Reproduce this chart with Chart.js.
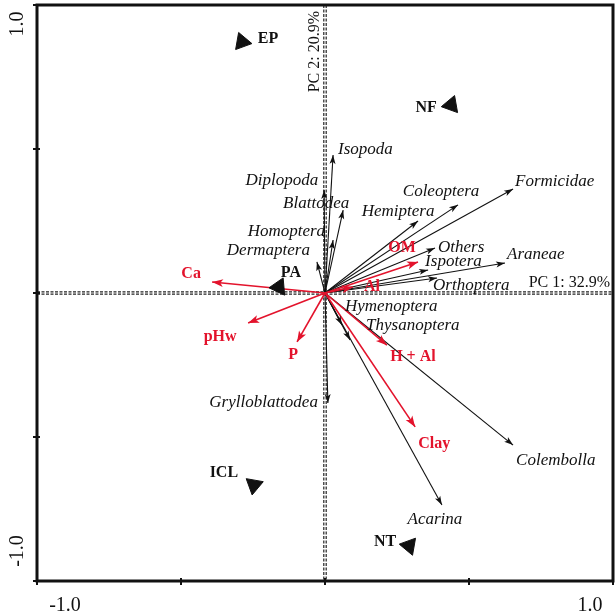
<!DOCTYPE html>
<html>
<head>
<meta charset="utf-8">
<script src="https://cdn.jsdelivr.net/npm/chart.js@4.4.0/dist/chart.umd.min.js"></script>
<style>
  body { margin: 0; background: #fff; }
  #wrap { width: 616px; height: 616px; }
</style>
</head>
<body>
<div id="wrap"><canvas id="chart" width="616" height="616"></canvas></div>
<script>
'use strict'

// species vectors (black arrows)
const speciesNames = ['Isopoda', 'Diplopoda', 'Blattodea', 'Homoptera', 'Dermaptera', 'Hemiptera',
    'Coleoptera', 'Formicidae', 'Others', 'Ispotera', 'Araneae', 'Orthoptera',
    'Hymenoptera', 'Thysanoptera', 'Grylloblattodea', 'Colembolla', 'Acarina']
const speciesX = [0.028, -0.003, 0.063, 0.028, -0.028, 0.323, 0.462, 0.653, 0.382, 0.358, 0.625, 0.389,
    0.059, 0.087, 0.010, 0.653, 0.406]
const speciesY = [0.479, 0.358, 0.288, 0.184, 0.108, 0.250, 0.306, 0.361, 0.156, 0.080, 0.104, 0.052,
    -0.111, -0.163, -0.382, -0.528, -0.736]

// soil variables (red arrows)
const soilNames = ['Ca', 'pHw', 'P', 'OM', 'Al', 'H + Al', 'Clay']
const soilX = [-0.392, -0.267, -0.097, 0.323, 0.097, 0.215, 0.313]
const soilY = [0.038, -0.104, -0.170, 0.108, 0.021, -0.181, -0.465]

// sites (triangles)
const siteNames = ['EP', 'NF', 'PA', 'ICL', 'NT']
const siteX = [-0.288, 0.438, -0.160, -0.247, 0.292]
const siteY = [0.872, 0.653, 0.021, -0.667, -0.878]

// axis
const axisTicks = [-1, -0.5, 0, 0.5, 1]
const pc1Label = 'PC 1: 32.9%'
const pc2Label = 'PC 2: 20.9%'

// label placement (pixel offset from arrow tip, alignment)
const speciesLabelPos = [[5, -6, 'left'], [-6, -9, 'right'], [-27, -7, 'center'], [-8, -8, 'right'],
    [-7, -11, 'right'], [-20, -9, 'center'], [-17, -13, 'center'], [2, -8, 'left'], [3, -1, 'left'],
    [-3, -8, 'left'], [2, -9, 'left'], [-4, 8, 'left'], [3, -18, 'left'], [16, -14, 'left'],
    [-10, 0, 'right'], [3, 15, 'left'], [-7, 15, 'center']]
const soilLabelPos = [[-21, -8], [-28, 14], [-4, 13], [-16, -14], [19, 0], [26, 12], [19, 17]]
const siteLabelPos = [[26, -3], [-25, 3], [12, -14], [-30, -12], [-24, -4]]
const siteRotation = [100, -100, -95, 70, -80]

const RED = '#e3132c'
const SERIF = '"Liberation Serif", "DejaVu Serif", serif'

let datasets = []

speciesNames.forEach((name, i) => {
    datasets.push({
        type: 'line', label: name, kind: 'species', idx: i,
        data: [{x: 0, y: 0}, {x: speciesX[i], y: speciesY[i]}],
        borderColor: '#111', borderWidth: 1.1, pointRadius: 0, order: 3
    })
})

soilNames.forEach((name, i) => {
    datasets.push({
        type: 'line', label: name, kind: 'soil', idx: i,
        data: [{x: 0, y: 0}, {x: soilX[i], y: soilY[i]}],
        borderColor: RED, borderWidth: 1.6, pointRadius: 0, order: 2
    })
})

datasets.push({
    type: 'scatter', label: 'sites', kind: 'site',
    data: siteX.map((x, i) => ({x: x, y: siteY[i]})),
    pointStyle: 'triangle', pointRadius: 10, rotation: siteRotation,
    backgroundColor: '#111', borderColor: '#111', borderWidth: 1, order: 1
})

function arrowHead(ctx, x0, y0, x1, y1, len, wid, color) {
    let a = Math.atan2(y1 - y0, x1 - x0)
    ctx.save()
    ctx.fillStyle = color
    ctx.translate(x1, y1)
    ctx.rotate(a)
    ctx.beginPath()
    ctx.moveTo(0, 0)
    ctx.lineTo(-len, -wid / 2)
    ctx.lineTo(-len * 0.75, 0)
    ctx.lineTo(-len, wid / 2)
    ctx.closePath()
    ctx.fill()
    ctx.restore()
}

const decor = {
    id: 'decor',
    beforeDatasetsDraw(chart) {
        let ctx = chart.ctx
        let a = chart.chartArea
        let sx = chart.scales.x, sy = chart.scales.y
        let x0 = sx.getPixelForValue(0), y0 = sy.getPixelForValue(0)
        ctx.save()
        // dashed zero lines (double)
        ctx.strokeStyle = '#222'
        ctx.lineWidth = 1.2
        ctx.setLineDash([3, 1.5])
        ;[-1.2, 1.2].forEach(d => {
            ctx.beginPath()
            ctx.moveTo(a.left, y0 + d); ctx.lineTo(a.right, y0 + d)
            ctx.stroke()
            ctx.beginPath()
            ctx.moveTo(x0 + d, a.top); ctx.lineTo(x0 + d, a.bottom)
            ctx.stroke()
        })
        ctx.restore()
    },
    afterDatasetsDraw(chart) {
        let ctx = chart.ctx
        let a = chart.chartArea
        let sx = chart.scales.x, sy = chart.scales.y

        chart.data.datasets.forEach((ds, di) => {
            let meta = chart.getDatasetMeta(di)
            if (ds.kind === 'species' || ds.kind === 'soil') {
                let p0 = meta.data[0], p1 = meta.data[1]
                if (ds.kind === 'species') arrowHead(ctx, p0.x, p0.y, p1.x, p1.y, 9, 6, '#111')
                else arrowHead(ctx, p0.x, p0.y, p1.x, p1.y, 11, 8, RED)
            }
        })

        ctx.save()
        ctx.textBaseline = 'middle'
        chart.data.datasets.forEach((ds, di) => {
            let meta = chart.getDatasetMeta(di)
            if (ds.kind === 'species') {
                let p = meta.data[1], o = speciesLabelPos[ds.idx]
                ctx.font = 'italic 17px ' + SERIF
                ctx.fillStyle = '#111'
                ctx.textAlign = o[2]
                ctx.fillText(ds.label, p.x + o[0], p.y + o[1])
            } else if (ds.kind === 'soil') {
                let p = meta.data[1], o = soilLabelPos[ds.idx]
                ctx.font = 'bold 16px ' + SERIF
                ctx.fillStyle = RED
                ctx.textAlign = 'center'
                ctx.fillText(ds.label, p.x + o[0], p.y + o[1])
            } else if (ds.kind === 'site') {
                meta.data.forEach((p, i) => {
                    let o = siteLabelPos[i]
                    ctx.font = 'bold 16px ' + SERIF
                    ctx.fillStyle = '#111'
                    ctx.textAlign = 'center'
                    ctx.fillText(siteNames[i], p.x + o[0], p.y + o[1])
                })
            }
        })

        // frame
        ctx.strokeStyle = '#111'
        ctx.lineWidth = 3
        ctx.setLineDash([])
        ctx.strokeRect(a.left, a.top, a.right - a.left, a.bottom - a.top)

        // tick marks
        ctx.lineWidth = 2
        axisTicks.forEach(v => {
            let px = sx.getPixelForValue(v)
            ctx.beginPath(); ctx.moveTo(px, a.bottom - 3); ctx.lineTo(px, a.bottom + 4); ctx.stroke()
            let py = sy.getPixelForValue(v)
            ctx.beginPath(); ctx.moveTo(a.left - 4, py); ctx.lineTo(a.left + 3, py); ctx.stroke()
        })

        // tick labels (only the ends are labelled)
        ctx.fillStyle = '#111'
        ctx.font = '20px ' + SERIF
        ctx.textAlign = 'center'
        ctx.fillText(axisTicks[0].toFixed(1), a.left + 28, a.bottom + 25)
        ctx.fillText(axisTicks[4].toFixed(1), a.right - 23, a.bottom + 25)
        ctx.save()
        ctx.translate(a.left - 19, a.top + 19)
        ctx.rotate(-Math.PI / 2)
        ctx.fillText(axisTicks[4].toFixed(1), 0, 0)
        ctx.restore()
        ctx.save()
        ctx.translate(a.left - 19, a.bottom - 30)
        ctx.rotate(-Math.PI / 2)
        ctx.fillText(axisTicks[0].toFixed(1), 0, 0)
        ctx.restore()

        // axis titles
        ctx.font = '16px ' + SERIF
        ctx.textAlign = 'right'
        let y0 = sy.getPixelForValue(0), x0 = sx.getPixelForValue(0)
        ctx.fillText(pc1Label, a.right - 3, y0 - 10)
        ctx.save()
        ctx.translate(x0 - 10, a.top + 6)
        ctx.rotate(-Math.PI / 2)
        ctx.fillText(pc2Label, 0, 0)
        ctx.restore()
        ctx.restore()
    }
}

new Chart(document.querySelector('#chart').getContext('2d'), {
    data: { datasets: datasets },
    options: {
        responsive: false,
        animation: false,
        layout: { autoPadding: false, padding: { left: 37, top: 5, right: 3, bottom: 35 } },
        plugins: { legend: { display: false }, tooltip: { enabled: false } },
        scales: {
            x: { type: 'linear', min: -1, max: 1, display: false },
            y: { type: 'linear', min: -1, max: 1, display: false }
        }
    },
    plugins: [decor]
})
</script>
</body>
</html>
